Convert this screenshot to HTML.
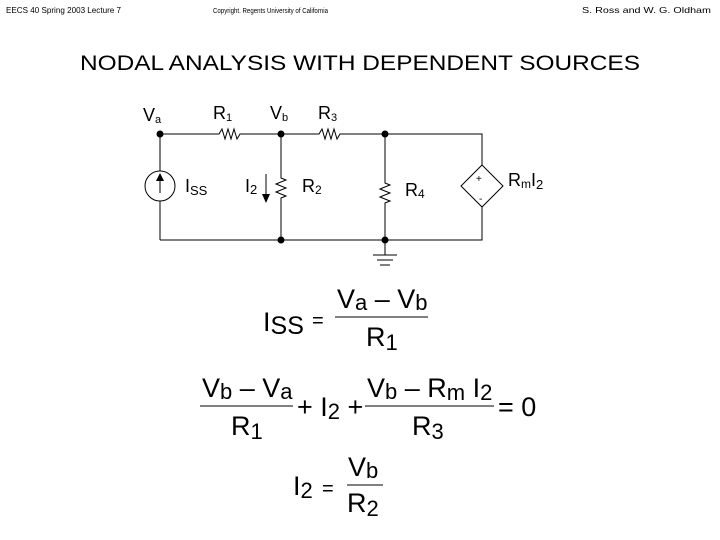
<!DOCTYPE html>
<html><head><meta charset="utf-8"><style>
html,body{margin:0;padding:0;background:#fff;}
svg{display:block;font-family:"Liberation Sans",Arial,sans-serif;}
</style></head><body>
<svg width="720" height="540" viewBox="0 0 720 540" xmlns="http://www.w3.org/2000/svg">
<g font-size="8.5" fill="#000">
<text x="6" y="13" textLength="115" lengthAdjust="spacingAndGlyphs">EECS 40 Spring 2003 Lecture 7</text>
<text x="213" y="13" font-size="7" textLength="115" lengthAdjust="spacingAndGlyphs">Copyright. Regents University of California</text>
<text x="582" y="13" textLength="129" lengthAdjust="spacingAndGlyphs">S. Ross and W. G. Oldham</text>
</g>
<text x="80" y="70" font-size="21" textLength="560" lengthAdjust="spacingAndGlyphs">NODAL ANALYSIS WITH DEPENDENT SOURCES</text>

<g stroke="#000" stroke-width="1" fill="none">
<!-- top wire -->
<polyline points="160,134 219,134 222,129 225,139 228,129 231,139 234,129 237,139 240,134 281,134"/>
<polyline points="281,134 319,134 322,129 325,139 328,129 331,139 334,129 337,139 340,134 385,134 482,134 482,165"/>
<!-- left -->
<line x1="160" y1="134" x2="160" y2="171"/>
<circle cx="160" cy="186" r="15"/>
<line x1="160" y1="201" x2="160" y2="240"/>
<line x1="160" y1="193" x2="160" y2="181"/>
<!-- bottom -->
<polyline points="160,240 482,240 482,207"/>
<!-- R2 -->
<polyline points="281,134 281,178 286,180 276,184 286,188 276,192 286,196 281,198 281,240"/>
<!-- R4 -->
<polyline points="385,134 385,183 390,185 380,189 390,193 380,197 390,201 385,203 385,240"/>
<!-- diamond -->
<polygon points="482,165 503,186 482,207 461,186"/>
<!-- ground -->
<line x1="385" y1="240" x2="385" y2="255"/>
<line x1="373" y1="255" x2="397" y2="255"/>
<line x1="377" y1="260" x2="393" y2="260"/>
<line x1="380" y1="265" x2="390" y2="265"/>
<!-- I2 arrow -->
<line x1="266" y1="174" x2="266" y2="195"/>
</g>
<polygon points="156,181 164,181 160,173" fill="#000"/>
<polygon points="262,194 270,194 266,203" fill="#000"/>
<g fill="#000">
<circle cx="160" cy="134" r="3.5"/><circle cx="281" cy="134" r="3.5"/><circle cx="385" cy="134" r="3.5"/>
<circle cx="281" cy="240" r="3.5"/><circle cx="385" cy="240" r="3.5"/>
</g>
<g font-size="18" fill="#000">
<text x="143" y="121">V<tspan font-size="11" dy="2">a</tspan></text>
<text x="213" y="119">R<tspan font-size="11" dy="2">1</tspan></text>
<text x="270" y="119">V<tspan font-size="11" dy="2">b</tspan></text>
<text x="318" y="119">R<tspan font-size="11" dy="2">3</tspan></text>
<text x="185" y="192">I<tspan font-size="13" dy="3">SS</tspan></text>
<text x="245" y="192">I<tspan font-size="13" dy="2">2</tspan></text>
<text x="302" y="192">R<tspan font-size="12" dy="2">2</tspan></text>
<text x="405" y="196">R<tspan font-size="12" dy="2">4</tspan></text>
<text x="508" y="186">R<tspan font-size="12" dy="2">m</tspan><tspan dy="-2">I</tspan><tspan font-size="13" dy="3">2</tspan></text>
<text x="476" y="182" font-size="10">+</text>
<text x="479" y="202" font-size="10">-</text>
</g>

<g font-size="27" fill="#000">
<!-- eq1 -->
<text x="263" y="331">I<tspan font-size="25" dy="3">SS</tspan></text>
<text x="312" y="327" font-size="20">=</text>
<line x1="335" y1="317" x2="428" y2="317" stroke="#000" stroke-width="1"/>
<text x="337" y="308">V<tspan font-size="22" dy="2">a</tspan><tspan dy="-2"> – V</tspan><tspan font-size="22" dy="2">b</tspan></text>
<text x="366" y="346">R<tspan font-size="22" dy="4">1</tspan></text>
<!-- eq2 -->
<line x1="200" y1="406" x2="293" y2="406" stroke="#000"/>
<text x="202" y="397">V<tspan font-size="22" dy="2">b</tspan><tspan dy="-2"> – V</tspan><tspan font-size="22" dy="2">a</tspan></text>
<text x="231" y="435">R<tspan font-size="22" dy="4">1</tspan></text>
<text x="297" y="416">+ I<tspan font-size="22" dy="3">2</tspan><tspan dy="-3"> +</tspan></text>
<line x1="365" y1="406" x2="494" y2="406" stroke="#000"/>
<text x="367" y="397">V<tspan font-size="22" dy="2">b</tspan><tspan dy="-2"> – R</tspan><tspan font-size="22" dy="3">m</tspan><tspan dy="-3"> I</tspan><tspan font-size="22" dy="3">2</tspan></text>
<text x="412" y="435">R<tspan font-size="22" dy="4">3</tspan></text>
<text x="498" y="416">= 0</text>
<!-- eq3 -->
<text x="293" y="495">I<tspan font-size="22" dy="3">2</tspan></text>
<text x="322" y="495" font-size="20">=</text>
<line x1="347" y1="485" x2="383" y2="485" stroke="#000"/>
<text x="348" y="476">V<tspan font-size="22" dy="2">b</tspan></text>
<text x="347" y="512">R<tspan font-size="22" dy="4">2</tspan></text>
</g>
</svg>
</body></html>
